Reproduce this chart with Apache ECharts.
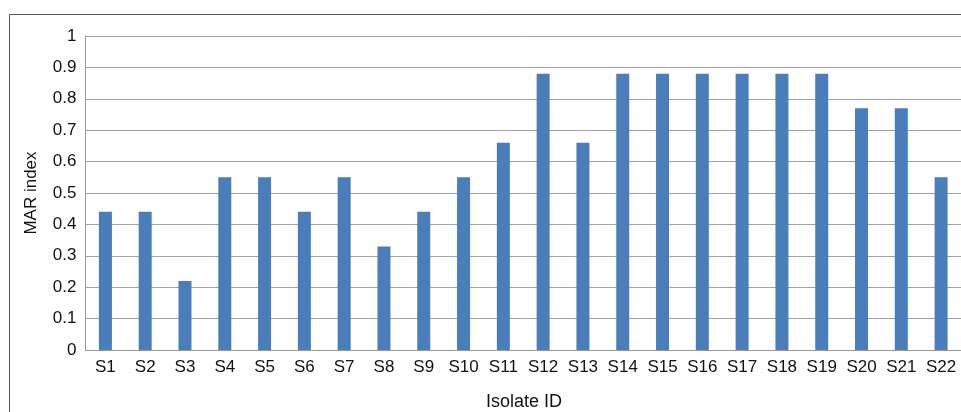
<!DOCTYPE html>
<html>
<head>
<meta charset="utf-8">
<script src="https://cdn.jsdelivr.net/npm/echarts@6/dist/echarts.min.js"></script>
<style>
html,body{margin:0;padding:0;background:#fff;}
#chart{width:961px;height:412px;}
</style>
</head>
<body>
<div id="chart"></div>
<script>
const categories = ['S1','S2','S3','S4','S5','S6','S7','S8','S9','S10','S11','S12','S13','S14','S15','S16','S17','S18','S19','S20','S21','S22'];
const marIndex = [0.44,0.44,0.22,0.55,0.55,0.44,0.55,0.33,0.44,0.55,0.66,0.88,0.66,0.88,0.88,0.88,0.88,0.88,0.88,0.77,0.77,0.55];
const yTitle = 'MAR index';
const xTitle = 'Isolate ID';

const chart = echarts.init(document.getElementById('chart'), null, {renderer:'canvas'});
const font = 'Liberation Sans, Arial, sans-serif';
chart.setOption({
  animation:false,
  backgroundColor:'#fff',
  graphic:[
    {type:'rect', shape:{x:9.5,y:14.5,width:1000,height:500}, style:{fill:'none',stroke:'#555',lineWidth:1}, z:-1},
    {type:'text', x:524, y:402, style:{text:xTitle, textAlign:'center', textVerticalAlign:'middle', font:'18px '+font, fill:'#111'}},
    {type:'text', rotation:Math.PI/2, x:31, y:193, style:{text:yTitle, textAlign:'center', textVerticalAlign:'middle', font:'17px '+font, fill:'#111'}}
  ],
  grid:{left:85.5, top:36, width:879, height:314, containLabel:false},
  xAxis:{
    type:'category', data:categories,
    axisLine:{show:true, lineStyle:{color:'#9a9a9a', width:1}},
    axisTick:{show:false},
    axisLabel:{fontSize:17, fontFamily:font, color:'#111', margin:9, interval:0}
  },
  yAxis:{
    type:'value', min:0, max:1, interval:0.1,
    axisLine:{show:true, lineStyle:{color:'#9a9a9a', width:1}},
    axisTick:{show:false},
    splitLine:{show:true, lineStyle:{color:'#a0a0a0', width:1}},
    axisLabel:{fontSize:17, fontFamily:font, color:'#111', margin:9}
  },
  series:[{
    type:'bar', data:marIndex, barWidth:13,
    itemStyle:{color:'#4a7ebb'}
  }]
});
</script>
</body>
</html>
